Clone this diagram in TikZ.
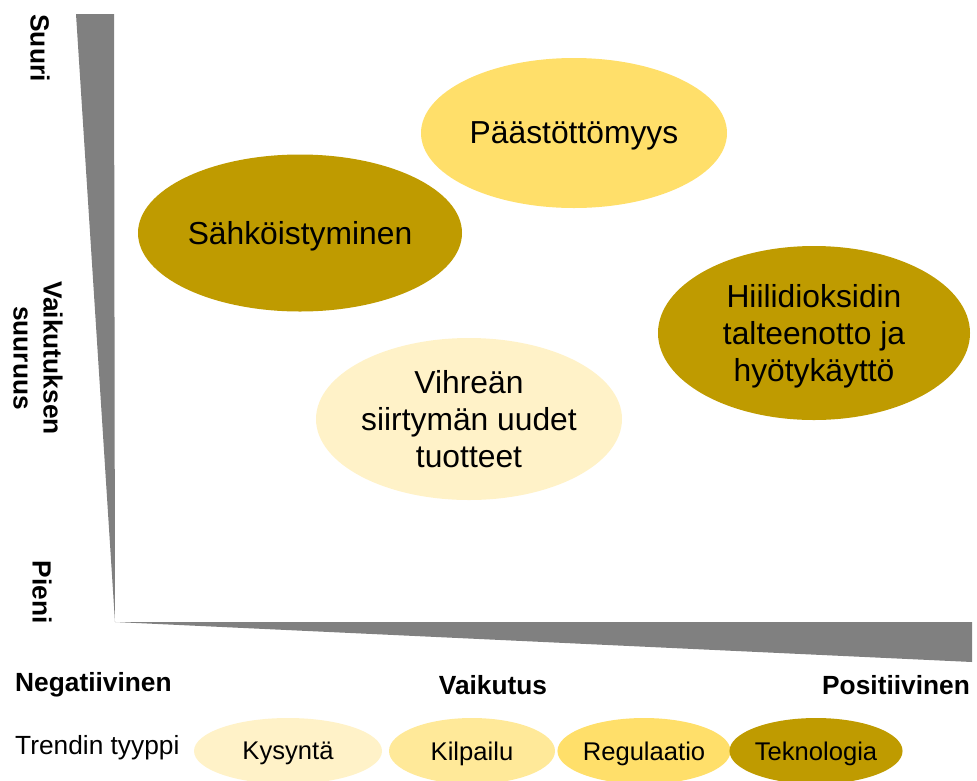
\documentclass[tikz,border=0pt]{standalone}
\usepackage{fontspec}
\setmainfont{Liberation Sans}
\usetikzlibrary{shapes.geometric}
\definecolor{gold}{HTML}{BF9B00}
\definecolor{yel}{HTML}{FFDF6A}
\definecolor{lyel}{HTML}{FFE999}
\definecolor{pyel}{HTML}{FFF2C8}
\definecolor{wedge}{HTML}{808080}
\tikzset{
  bubble/.style={ellipse, inner sep=0pt, align=center, text=black, text depth=0pt, font=\fontsize{31.8}{37}\selectfont},
  legbub/.style={ellipse, inner sep=0pt, align=center, text=black, text depth=0pt, font=\fontsize{25.6}{30}\selectfont},
  axlab/.style={font=\fontsize{26.3}{30}\selectfont\bfseries, inner sep=0pt},
  vlab/.style={font=\fontsize{26.3}{30}\selectfont\bfseries, inner sep=0pt, rotate=-90, align=center}
}
\begin{document}
\begin{tikzpicture}[x=1pt,y=-1pt]
\useasboundingbox (0,0) rectangle (977,780);
% wedges
\fill[wedge] (76,14) -- (114,14) -- (115,622) -- cycle;
\fill[wedge] (115,622) -- (972,622) -- (972,662) -- cycle;
% bubbles
\node[bubble, fill=yel, minimum width=306pt, minimum height=150pt] (paast) at (574,133) {Päästöttömyys};
\node[bubble, fill=gold, minimum width=324pt, minimum height=157pt] (sahk) at (300,233) {Sähköistyminen};
\node[bubble, fill=gold, minimum width=312pt, minimum height=174pt] (hiili) at (814,333) {Hiilidioksidin\\talteenotto ja\\hyötykäyttö};
\node[bubble, fill=pyel, minimum width=306pt, minimum height=162pt] (vihr) at (469,419) {Vihreän\\siirtymän uudet\\tuotteet};
% axis labels
\node[vlab] (suuri) at (40,48) {Suuri};
\node[vlab] (vaik) at (38,358) {Vaikutuksen\\suuruus};
\node[vlab] (pieni) at (42,592) {Pieni};
\node[axlab, anchor=west] (neg) at (15,685) {Negatiivinen};
\node[axlab] (vaikutus) at (493,685) {Vaikutus};
\node[axlab, anchor=east] (pos) at (970,685) {Positiivinen};
% legend
\node[font=\fontsize{26.3}{30}\selectfont, inner sep=0pt, anchor=west] (trend) at (15,748) {Trendin tyyppi};
\node[legbub, fill=pyel, minimum width=188pt, minimum height=66pt] (kys) at (288,751) {Kysyntä};
\node[legbub, fill=lyel, minimum width=166pt, minimum height=66pt] (kil) at (472,751) {Kilpailu};
\node[legbub, fill=yel, minimum width=166pt, minimum height=66pt] (reg) at (644,751) {Regulaatio};
\node[legbub, fill=gold, minimum width=164pt, minimum height=66pt] (tek) at (816,751) {Teknologia};
\end{tikzpicture}
\end{document}
